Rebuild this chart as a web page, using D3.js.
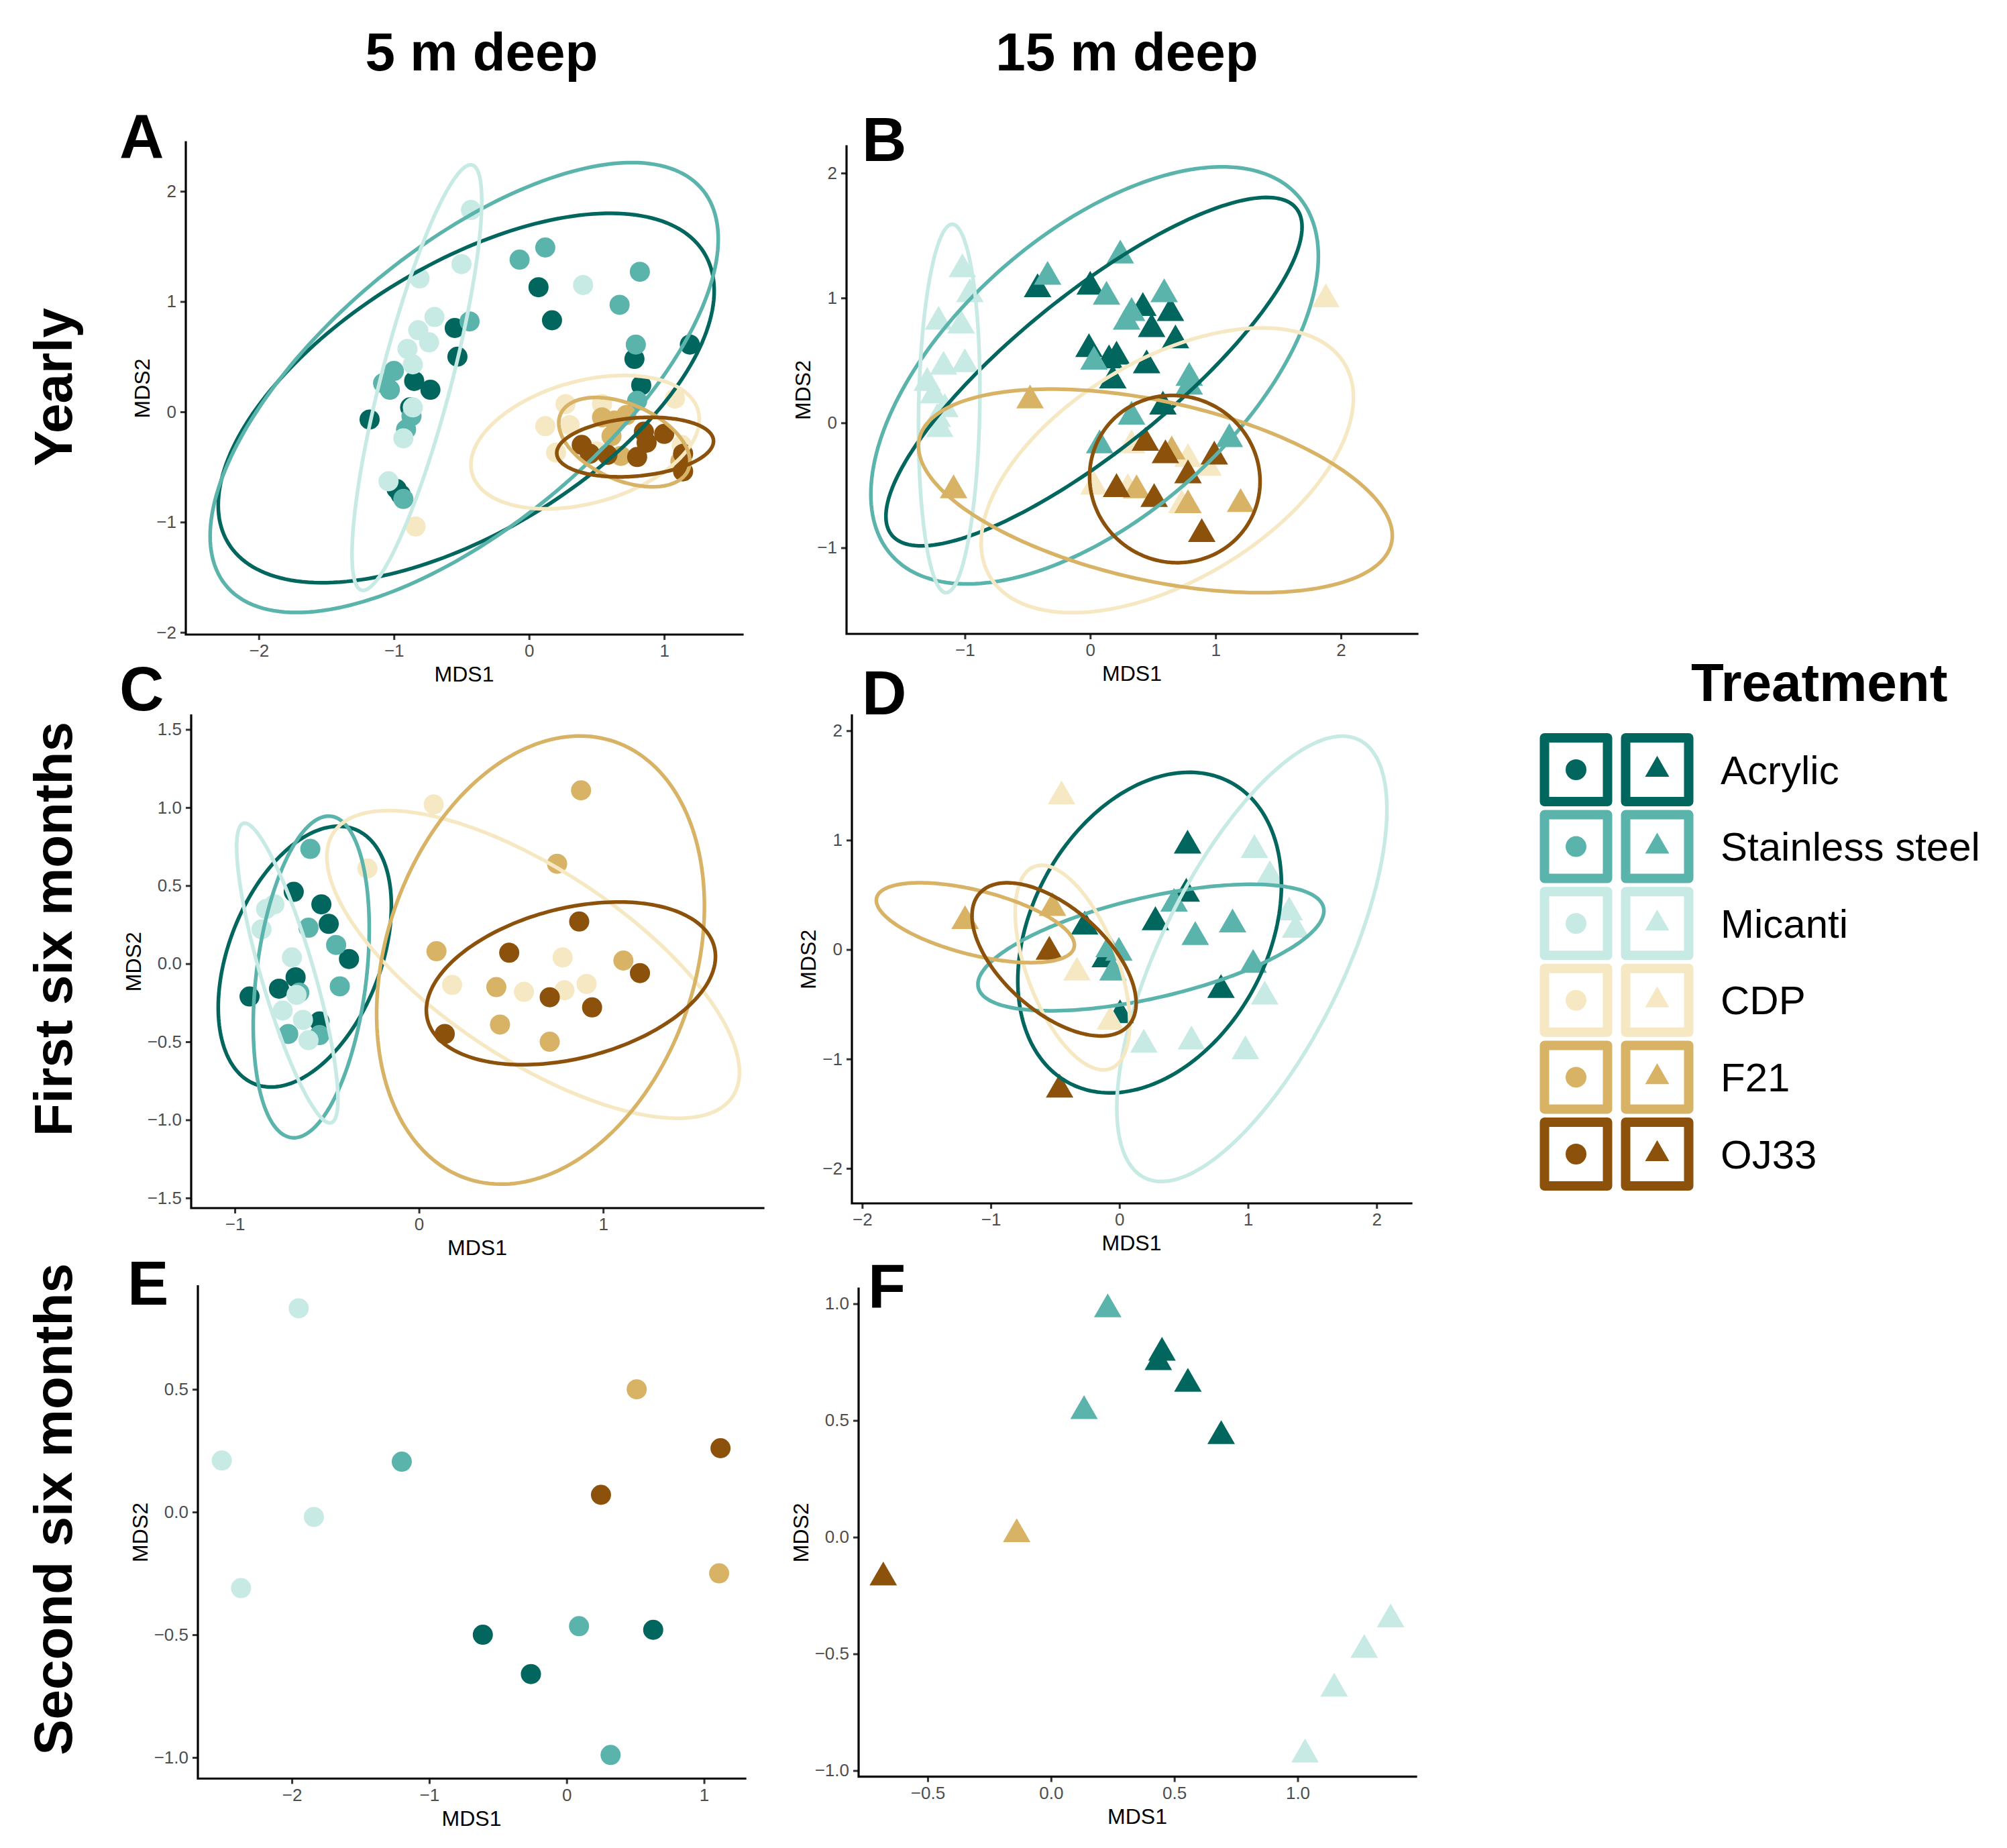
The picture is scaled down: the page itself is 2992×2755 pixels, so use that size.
<!DOCTYPE html>
<html>
<head>
<meta charset="utf-8">
<script src="https://cdn.jsdelivr.net/npm/d3@7"></script>
<style>
  body { margin: 0; background: #fff; }
  text { font-family: "Liberation Sans", Arial, Helvetica, sans-serif; }
</style>
</head>
<body>
<div id="chart"></div>
<script>
(function () {
  // treatments and their colours (BrBG)
  const treatments = ["Acrylic", "Stainless steel", "Micanti", "CDP", "F21", "OJ33"];
  const palette = ["#01665E", "#5AB4AC", "#C7EAE5", "#F6E8C3", "#D8B365", "#8C510A"];

  const columnTitles = ["5 m deep", "15 m deep"];
  const rowTitles = ["Yearly", "First six months", "Second six months"];
  const panelLetters = ["A", "B", "C", "D", "E", "F"];

  // NMDS scores: [treatment, MDS1, MDS2]
  const yearly5m = [
    ["Acrylic", 0.07, 1.13], ["Acrylic", 0.17, 0.83], ["Acrylic", -0.55, 0.76], ["Acrylic", -0.53, 0.50],
    ["Acrylic", -0.85, 0.28], ["Acrylic", -0.73, 0.20], ["Acrylic", -1.18, -0.07], ["Acrylic", -0.88, 0.04],
    ["Acrylic", -0.98, -0.70], ["Acrylic", -0.95, -0.75], ["Acrylic", 0.78, 0.48], ["Acrylic", 0.83, 0.24],
    ["Acrylic", 1.19, 0.61],
    ["Stainless steel", -0.07, 1.38], ["Stainless steel", 0.12, 1.49], ["Stainless steel", 0.82, 1.27],
    ["Stainless steel", 0.67, 0.97], ["Stainless steel", 0.79, 0.61], ["Stainless steel", -0.44, 0.82],
    ["Stainless steel", -1.0, 0.37], ["Stainless steel", -1.08, 0.26], ["Stainless steel", -1.03, 0.20],
    ["Stainless steel", -0.87, -0.04], ["Stainless steel", -0.91, -0.16], ["Stainless steel", -0.93, -0.79],
    ["Stainless steel", 0.80, 0.10],
    ["Micanti", -0.43, 1.83], ["Micanti", -0.50, 1.34], ["Micanti", -0.81, 1.21], ["Micanti", 0.40, 1.15],
    ["Micanti", -0.70, 0.86], ["Micanti", -0.82, 0.74], ["Micanti", -0.74, 0.63], ["Micanti", -0.90, 0.57],
    ["Micanti", -0.86, 0.43], ["Micanti", -0.86, 0.04], ["Micanti", -0.93, -0.24], ["Micanti", -1.04, -0.63],
    ["CDP", -0.84, -1.04], ["CDP", 0.27, 0.07], ["CDP", 0.12, -0.13], ["CDP", 0.30, -0.12], ["CDP", 0.54, 0.07],
    ["CDP", 1.08, 0.12], ["CDP", 0.20, -0.37], ["CDP", 0.50, -0.36], ["CDP", 1.13, -0.30],
    ["F21", 0.54, -0.05], ["F21", 0.63, -0.08], ["F21", 0.72, -0.03], ["F21", 0.61, -0.22],
    ["F21", 0.68, -0.40], ["F21", 1.12, -0.45],
    ["OJ33", 0.39, -0.30], ["OJ33", 0.45, -0.38], ["OJ33", 0.58, -0.39], ["OJ33", 0.85, -0.18],
    ["OJ33", 0.87, -0.28], ["OJ33", 1.0, -0.20], ["OJ33", 0.80, -0.41], ["OJ33", 1.14, -0.38],
    ["OJ33", 1.14, -0.54]
  ];

  const yearly15m = [
    ["Acrylic", -0.42, 1.07], ["Acrylic", 0.0, 1.09], ["Acrylic", 0.42, 0.92], ["Acrylic", 0.64, 0.88],
    ["Acrylic", 0.49, 0.75], ["Acrylic", 0.68, 0.66], ["Acrylic", -0.01, 0.59], ["Acrylic", 0.15, 0.50],
    ["Acrylic", 0.21, 0.53], ["Acrylic", 0.45, 0.46], ["Acrylic", 0.18, 0.34], ["Acrylic", 0.58, 0.13],
    ["Stainless steel", -0.34, 1.17], ["Stainless steel", 0.24, 1.34], ["Stainless steel", 0.13, 1.01],
    ["Stainless steel", 0.59, 1.03], ["Stainless steel", 0.33, 0.88], ["Stainless steel", 0.29, 0.81],
    ["Stainless steel", 0.03, 0.49], ["Stainless steel", 0.79, 0.36], ["Stainless steel", 0.79, 0.29],
    ["Stainless steel", 0.33, 0.05], ["Stainless steel", 0.075, -0.18], ["Stainless steel", 1.11, -0.13],
    ["Micanti", -1.02, 1.23], ["Micanti", -0.96, 1.03], ["Micanti", -1.21, 0.81], ["Micanti", -1.03, 0.78],
    ["Micanti", -1.17, 0.45], ["Micanti", -1.0, 0.47], ["Micanti", -1.30, 0.32], ["Micanti", -1.25, 0.22],
    ["Micanti", -1.16, 0.11], ["Micanti", -1.20, -0.05], ["Micanti", -1.22, 0.03],
    ["CDP", 0.33, -0.18], ["CDP", 0.78, -0.29], ["CDP", 0.94, -0.36], ["CDP", 0.03, -0.51],
    ["CDP", 0.30, -0.53], ["CDP", 0.73, -0.66], ["CDP", 1.88, 0.99],
    ["F21", -0.48, 0.18], ["F21", -1.09, -0.54], ["F21", 0.65, -0.23], ["F21", 0.37, -0.54],
    ["F21", 0.78, -0.66], ["F21", 1.20, -0.65],
    ["OJ33", 0.44, -0.16], ["OJ33", 0.60, -0.26], ["OJ33", 0.99, -0.27], ["OJ33", 0.78, -0.42],
    ["OJ33", 0.21, -0.53], ["OJ33", 0.51, -0.61], ["OJ33", 0.89, -0.89]
  ];

  const first5m = [
    ["Acrylic", -0.68, 0.46], ["Acrylic", -0.53, 0.38], ["Acrylic", -0.49, 0.255], ["Acrylic", -0.38, 0.03],
    ["Acrylic", -0.67, -0.087], ["Acrylic", -0.76, -0.16], ["Acrylic", -0.92, -0.21], ["Acrylic", -0.54, -0.37],
    ["Stainless steel", -0.59, 0.735], ["Stainless steel", -0.60, 0.23], ["Stainless steel", -0.45, 0.12],
    ["Stainless steel", -0.43, -0.145], ["Stainless steel", -0.65, -0.185], ["Stainless steel", -0.71, -0.45],
    ["Stainless steel", -0.54, -0.457],
    ["Micanti", -0.785, 0.38], ["Micanti", -0.83, 0.35], ["Micanti", -0.855, 0.22], ["Micanti", -0.69, 0.04],
    ["Micanti", -0.665, -0.20], ["Micanti", -0.74, -0.30], ["Micanti", -0.63, -0.36], ["Micanti", -0.60, -0.49],
    ["CDP", 0.08, 1.02], ["CDP", -0.28, 0.61], ["CDP", 0.18, -0.136], ["CDP", 0.57, -0.18],
    ["CDP", 0.78, 0.04], ["CDP", 0.79, -0.17], ["CDP", 0.91, -0.13],
    ["F21", 0.88, 1.11], ["F21", 0.75, 0.64], ["F21", 0.095, 0.08], ["F21", 0.42, -0.15],
    ["F21", 0.44, -0.39], ["F21", 0.71, -0.50], ["F21", 1.11, 0.02],
    ["OJ33", 0.87, 0.27], ["OJ33", 0.49, 0.07], ["OJ33", 0.71, -0.215], ["OJ33", 1.20, -0.06],
    ["OJ33", 0.94, -0.28], ["OJ33", 0.14, -0.45]
  ];

  const first15m = [
    ["Acrylic", 0.52, 0.51], ["Acrylic", 0.28, 0.25], ["Acrylic", -0.27, 0.21], ["Acrylic", -0.11, -0.09],
    ["Acrylic", 0.79, -0.37], ["Acrylic", 0.005, -0.60], ["Acrylic", 0.53, 0.95],
    ["Stainless steel", 0.425, 0.42], ["Stainless steel", 0.59, 0.115], ["Stainless steel", 0.88, 0.23],
    ["Stainless steel", -0.08, 0.003], ["Stainless steel", -0.004, -0.03], ["Stainless steel", -0.05, -0.21],
    ["Stainless steel", 1.04, -0.14],
    ["Micanti", 1.17, 0.67], ["Micanti", 1.32, 0.34], ["Micanti", 1.37, 0.18], ["Micanti", 1.13, -0.43],
    ["Micanti", 0.19, -0.87], ["Micanti", 0.56, -0.84], ["Micanti", 0.98, -0.93], ["Micanti", 1.05, 0.91],
    ["CDP", -0.45, 1.40], ["CDP", -0.33, -0.21], ["CDP", -0.07, -0.66],
    ["F21", -1.20, 0.26], ["F21", -0.52, 0.38],
    ["OJ33", -0.545, -0.02], ["OJ33", -0.465, -1.28]
  ];

  const second5m = [
    ["Acrylic", -0.61, -0.50], ["Acrylic", -0.26, -0.66], ["Acrylic", 0.63, -0.48],
    ["Stainless steel", -1.20, 0.205], ["Stainless steel", 0.09, -0.465], ["Stainless steel", 0.32, -0.99],
    ["Micanti", -1.95, 0.83], ["Micanti", -2.51, 0.21], ["Micanti", -1.84, -0.02], ["Micanti", -2.37, -0.31],
    ["F21", 0.51, 0.50], ["F21", 1.11, -0.25],
    ["OJ33", 1.12, 0.26], ["OJ33", 0.25, 0.07]
  ];

  const second15m = [
    ["Acrylic", 0.45, 0.79], ["Acrylic", 0.435, 0.75], ["Acrylic", 0.555, 0.657], ["Acrylic", 0.69, 0.433],
    ["Stainless steel", 0.23, 0.976], ["Stainless steel", 0.134, 0.54],
    ["Micanti", 1.377, -0.352], ["Micanti", 1.27, -0.483], ["Micanti", 1.148, -0.649], ["Micanti", 1.03, -0.931],
    ["F21", -0.139, 0.013],
    ["OJ33", -0.68, -0.173]
  ];

  // 95% ellipses: [treatment, centre MDS1, centre MDS2, half-width, half-height, correlation]
  const ellYearly5m = [
    ["Acrylic", -0.465, 0.125, 1.835, 1.675, 0.58],
    ["Stainless steel", -0.48, 0.22, 1.88, 2.04, 0.66],
    ["Micanti", -0.83, 0.31, 0.48, 1.93, 0.83],
    ["CDP", 0.415, -0.275, 0.845, 0.605, 0.34],
    ["F21", 0.705, -0.275, 0.485, 0.405, -0.43],
    ["OJ33", 0.785, -0.32, 0.58, 0.27, 0.2]
  ];
  const ellYearly15m = [
    ["Acrylic", 0.03, 0.41, 1.66, 1.395, 0.83],
    ["Stainless steel", 0.035, 0.38, 1.785, 1.67, 0.57],
    ["Micanti", -1.125, 0.115, 0.245, 1.475, 0.1],
    ["CDP", 0.615, -0.38, 1.485, 1.14, 0.51],
    ["F21", 0.52, -0.545, 1.89, 0.815, -0.44],
    ["OJ33", 0.675, -0.45, 0.68, 0.67, -0.03]
  ];
  const ellFirst5m = [
    ["Acrylic", -0.62, 0.045, 0.47, 0.835, 0.39],
    ["Stainless steel", -0.585, -0.085, 0.315, 1.03, 0.3],
    ["Micanti", -0.715, -0.06, 0.275, 0.96, -0.84],
    ["CDP", 0.62, -0.005, 1.12, 0.985, -0.70],
    ["F21", 0.66, 0.023, 0.89, 1.435, 0.24],
    ["OJ33", 0.825, -0.126, 0.785, 0.521, 0.33]
  ];
  const ellFirst15m = [
    ["Acrylic", 0.235, 0.155, 1.025, 1.465, 0.30],
    ["Stainless steel", 0.245, 0.018, 1.345, 0.578, 0.58],
    ["Micanti", 1.03, -0.085, 1.05, 2.035, 0.67],
    ["CDP", -0.365, -0.165, 0.445, 0.935, -0.54],
    ["F21", -1.12, 0.245, 0.77, 0.365, -0.56],
    ["OJ33", -0.508, -0.09, 0.638, 0.70, -0.57]
  ];

  const W = 2992, H = 2755;
  const svg = d3.select("#chart").append("svg")
    .attr("width", W)
    .attr("height", H)
    .attr("viewBox", `0 0 ${W} ${H}`);

  const colorOf = d3.scaleOrdinal().domain(treatments).range(palette);
  const circleSym = d3.symbol().type(d3.symbolCircle).size(Math.PI * 15 * 15);
  const triSym = d3.symbol().type(d3.symbolTriangle).size(728);

  function ellipsePoints(e) {
    const [, cx, cy, xr, yr, rho] = e;
    const s = Math.sqrt(1 - rho * rho);
    return d3.range(0, 200).map(i => {
      const t = (i / 200) * 2 * Math.PI;
      return [cx + xr * Math.cos(t), cy + yr * (rho * Math.cos(t) + s * Math.sin(t))];
    });
  }

  function drawPanel(p) {
    const x = d3.scaleLinear().domain(p.xdom).range([p.x0, p.x1]);
    const y = d3.scaleLinear().domain(p.ydom).range([p.y1, p.y0]);
    const g = svg.append("g");

    // points first, ellipses on top (as in the figure)
    const sym = p.shape === "circle" ? circleSym : triSym;
    const ordered = p.points.slice().sort((a, b) => treatments.indexOf(a[0]) - treatments.indexOf(b[0]));
    g.selectAll("path.pt")
      .data(ordered)
      .join("path")
      .attr("class", "pt")
      .attr("d", sym)
      .attr("transform", d => `translate(${x(d[1])},${y(d[2])})`)
      .attr("fill", d => colorOf(d[0]));

    if (p.ellipses) {
      const line = d3.line().x(d => x(d[0])).y(d => y(d[1])).curve(d3.curveLinearClosed);
      g.selectAll("path.ell")
        .data(p.ellipses)
        .join("path")
        .attr("class", "ell")
        .attr("d", d => line(ellipsePoints(d)))
        .attr("fill", "none")
        .attr("stroke", d => colorOf(d[0]))
        .attr("stroke-width", 5.5);
    }

    const styleAxis = sel => {
      sel.select(".domain").remove();
      sel.selectAll(".tick line").attr("stroke", "#333333").attr("stroke-width", 3);
      sel.selectAll(".tick text")
        .attr("fill", "#4D4D4D")
        .attr("font-size", 26)
        .attr("font-family", "Liberation Sans, Arial, sans-serif");
    };

    g.append("g")
      .attr("transform", `translate(0,${p.y1})`)
      .call(d3.axisBottom(x).tickValues(p.xticks).tickFormat(d3.format(p.xfmt)).tickSize(8).tickPadding(7))
      .call(styleAxis);

    const yAxisG = g.append("g")
      .attr("transform", `translate(${p.x0},0)`)
      .call(d3.axisLeft(y).tickValues(p.yticks).tickFormat(d3.format(p.yfmt)).tickSize(8).tickPadding(6))
      .call(styleAxis);

    // axis lines
    g.append("path")
      .attr("d", `M${p.x0},${p.y0}V${p.y1}H${p.x1}`)
      .attr("fill", "none")
      .attr("stroke", "#000")
      .attr("stroke-width", 3.2)
      .attr("stroke-linecap", "square");

    // axis titles
    g.append("text")
      .attr("x", (p.x0 + p.x1) / 2)
      .attr("y", p.y1 + 70)
      .attr("text-anchor", "middle")
      .attr("font-size", 32)
      .text("MDS1");

    const bb = yAxisG.node().getBBox();
    const ty = (p.y0 + p.y1) / 2;
    const tx = p.x0 + bb.x - 10;
    g.append("text")
      .attr("transform", `translate(${tx},${ty}) rotate(-90)`)
      .attr("text-anchor", "middle")
      .attr("font-size", 32)
      .text("MDS2");

    // panel letter
    g.append("text")
      .attr("x", p.lx)
      .attr("y", p.ly)
      .attr("font-size", 92)
      .attr("font-weight", "bold")
      .text(p.letter);
  }

  const panels = [
    { letter: panelLetters[0], lx: 178, ly: 235, x0: 277, x1: 1107, y0: 212, y1: 946,
      xdom: [-2.54, 1.58], ydom: [-2.02, 2.445], xticks: [-2, -1, 0, 1], yticks: [-2, -1, 0, 1, 2],
      xfmt: "d", yfmt: "d", points: yearly5m, ellipses: ellYearly5m, shape: "circle" },
    { letter: panelLetters[1], lx: 1285, ly: 240, x0: 1262, x1: 2113, y0: 218, y1: 945,
      xdom: [-1.944, 2.61], ydom: [-1.69, 2.215], xticks: [-1, 0, 1, 2], yticks: [-1, 0, 1, 2],
      xfmt: "d", yfmt: "d", points: yearly15m, ellipses: ellYearly15m, shape: "triangle" },
    { letter: panelLetters[2], lx: 178, ly: 1059, x0: 285, x1: 1138, y0: 1066.5, y1: 1801,
      xdom: [-1.237, 1.87], ydom: [-1.565, 1.59], xticks: [-1, 0, 1], yticks: [-1.5, -1, -0.5, 0, 0.5, 1, 1.5],
      xfmt: "d", yfmt: ".1f", points: first5m, ellipses: ellFirst5m, shape: "circle" },
    { letter: panelLetters[3], lx: 1285, ly: 1065, x0: 1270, x1: 2104, y0: 1066.5, y1: 1794,
      xdom: [-2.08, 2.27], ydom: [-2.32, 2.14], xticks: [-2, -1, 0, 1, 2], yticks: [-2, -1, 0, 1, 2],
      xfmt: "d", yfmt: "d", points: first15m, ellipses: ellFirst15m, shape: "triangle" },
    { letter: panelLetters[4], lx: 190, ly: 1945, x0: 295, x1: 1111, y0: 1917.5, y1: 2651.5,
      xdom: [-2.684, 1.30], ydom: [-1.086, 0.92], xticks: [-2, -1, 0, 1], yticks: [-1, -0.5, 0, 0.5],
      xfmt: "d", yfmt: ".1f", points: second5m, ellipses: null, shape: "circle" },
    { letter: panelLetters[5], lx: 1294, ly: 1949, x0: 1280, x1: 2111, y0: 1921, y1: 2648.6,
      xdom: [-0.78, 1.48], ydom: [-1.026, 1.065], xticks: [-0.5, 0, 0.5, 1], yticks: [-1, -0.5, 0, 0.5, 1],
      xfmt: ".1f", yfmt: ".1f", points: second15m, ellipses: null, shape: "triangle" }
  ];

  panels.forEach(drawPanel);

  // column and row titles
  const colX = [718, 1680];
  columnTitles.forEach((t, i) => {
    svg.append("text")
      .attr("x", colX[i]).attr("y", 105)
      .attr("text-anchor", "middle")
      .attr("font-size", 80).attr("font-weight", "bold")
      .text(t);
  });
  const rowY = [577, 1385, 2250];
  rowTitles.forEach((t, i) => {
    svg.append("text")
      .attr("transform", `translate(107,${rowY[i]}) rotate(-90)`)
      .attr("text-anchor", "middle")
      .attr("font-size", 80).attr("font-weight", "bold")
      .text(t);
  });

  // legend
  const leg = svg.append("g");
  leg.append("text")
    .attr("x", 2521).attr("y", 1045)
    .attr("font-size", 80).attr("font-weight", "bold")
    .text("Treatment");

  const legCircle = d3.symbol().type(d3.symbolCircle).size(Math.PI * 15.5 * 15.5);
  const legTri = d3.symbol().type(d3.symbolTriangle).size(561);
  treatments.forEach((t, i) => {
    const cy = 1147.5 + i * 114.6;
    const col = colorOf(t);
    [2349.5, 2470.5].forEach((cx, j) => {
      leg.append("rect")
        .attr("x", cx - 47).attr("y", cy - 47.5)
        .attr("width", 94).attr("height", 95)
        .attr("fill", "#fff")
        .attr("stroke", col)
        .attr("stroke-width", 14)
        .attr("stroke-linejoin", "round");
      leg.append("path")
        .attr("d", j === 0 ? legCircle() : legTri())
        .attr("transform", `translate(${cx},${cy})`)
        .attr("fill", col);
    });
    leg.append("text")
      .attr("x", 2565).attr("y", cy + 21)
      .attr("font-size", 60)
      .text(t);
  });
})();
</script>
</body>
</html>
